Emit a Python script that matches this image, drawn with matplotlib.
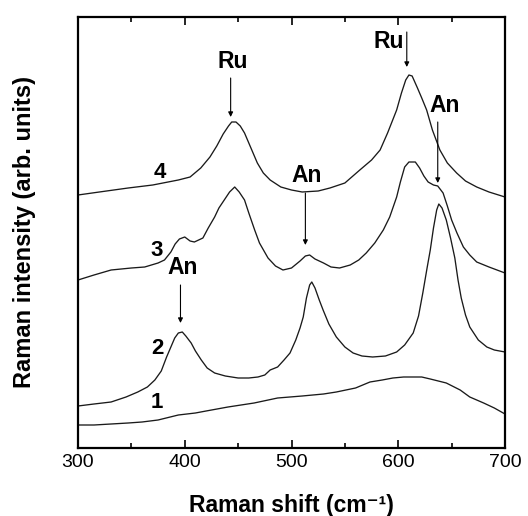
import matplotlib
matplotlib.use("Agg")
import matplotlib.pyplot as plt
from matplotlib.ticker import MultipleLocator

# Raman shift (cm^-1) and intensity (arb. units, offset curves)
x1 = [300, 315, 331, 347, 360, 375, 394, 410, 420, 440.5, 465, 487, 510, 530, 542, 560, 573.5, 585, 595, 605, 614, 622, 630, 645, 658, 667, 680, 690, 700]
y1 = [23, 23, 24, 25, 26, 28, 33, 35, 37, 41, 45, 50, 52, 54, 56, 60, 66, 68, 70, 71, 71, 71, 69, 65, 58, 51, 45, 40, 34]

x2 = [300, 315, 331, 345, 356, 365, 372, 378, 383, 387, 390.6, 394, 397.7, 401, 406, 410, 415.5, 421, 428, 438, 450, 460, 468.6, 475, 480, 487, 493, 498.6, 504, 508, 511, 514, 517, 519, 522, 526, 529.6, 535, 542, 550, 557.7, 566, 576, 588, 598.5, 606, 614, 619, 623, 627, 630, 633, 636, 638, 641, 645, 649, 653, 656, 659, 663, 667, 675, 683, 690, 700]
y2 = [42, 44, 46, 51, 56, 61, 68, 77, 91, 101, 110, 115, 116, 112, 105, 97, 88, 80, 75, 72, 70, 70, 71, 73, 78, 81, 88, 95, 108, 120, 131, 150, 163, 166, 160, 148, 138, 124, 111, 101, 95, 92, 91, 92, 96, 103, 115, 132, 155, 180, 198, 220, 238, 244, 240, 228, 210, 190, 168, 150, 133, 121, 108, 101, 98, 96]

x3 = [300, 315, 331, 350, 362.5, 375, 381, 387, 391, 395, 400, 405, 409, 413, 417, 422, 428, 432, 437, 442, 446.8, 451, 456, 460, 465.5, 470, 478, 485, 492, 500, 508, 513, 517, 522, 530, 537, 545, 555, 563, 570, 578, 586, 592, 598.5, 602, 606, 610, 616, 620, 624, 628, 633, 637, 642, 646, 650, 655, 661, 667, 673.5, 685, 700]
y3 = [168, 173, 178, 180, 181, 185, 188, 196, 204, 209, 211, 207, 206, 208, 210, 220, 231, 240, 248, 256, 261, 256, 248, 235, 218, 205, 190, 182, 178, 180, 187, 192, 193, 189, 185, 181, 180, 183, 188, 195, 205, 218, 231, 251, 266, 281, 286, 286, 280, 272, 266, 263, 262, 255, 242, 228, 215, 201, 193, 186, 181, 175]

x4 = [300, 320, 347, 370, 394, 405, 415, 423.6, 430, 436, 441, 444, 448, 452, 456, 460, 464, 468, 473.6, 480, 490, 500, 510, 525, 536, 550, 564, 575, 583, 590, 598.5, 603, 607, 610, 613, 618, 622, 626.6, 632, 639, 646, 654.7, 663, 673.5, 685, 700]
y4 = [253, 256, 260, 263, 268, 271, 280, 291, 302, 314, 322, 326, 326, 322, 315, 305, 295, 285, 275, 268, 261, 258, 256, 257, 260, 265, 278, 288, 298, 315, 338, 355, 368, 373, 372, 360, 350, 338, 318, 298, 285, 275, 267, 261, 256, 251]

curve_labels = ["1", "2", "3", "4"]
curve_label_pos = [(374, 45), (374, 100), (374, 198), (377, 275)]

# peak annotations: text, text position, arrow x, arrow start y, arrow tip y
peak_texts = ["Ru", "Ru", "An", "An", "An"]
peak_text_pos = [(445, 386), (591, 406), (643, 343), (514.5, 273), (398, 180)]
arrow_x = [443, 608, 637, 513, 396]
arrow_y_start = [370, 416, 326, 255, 163]
arrow_y_end = [331, 381, 265, 203, 125]

fig = plt.figure(figsize=(5.28, 5.16), dpi=100)
ax = fig.add_axes([78/528, 1-448/516, (505-78)/528, (448-17)/516])

for xs, ys in [(x1, y1), (x2, y2), (x3, y3), (x4, y4)]:
    ax.plot(xs, ys, color="#1a1a1a", lw=0.95)

for lab, (lx, ly) in zip(curve_labels, curve_label_pos):
    ax.text(lx, ly, lab, fontsize=16, fontweight="bold", family="Liberation Sans",
            ha="center", va="center")

for t, (tx, ty), axx, ys, ye in zip(peak_texts, peak_text_pos, arrow_x, arrow_y_start, arrow_y_end):
    ax.text(tx, ty, t, fontsize=16.5, fontweight="bold", family="Liberation Sans",
            ha="center", va="center")
    ax.annotate("", xy=(axx, ye), xytext=(axx, ys),
                arrowprops=dict(arrowstyle="-|>", lw=0.8, color="black",
                                mutation_scale=7, shrinkA=0, shrinkB=0))

ax.set_xlim(300, 700)
ax.set_ylim(0, 431)
ax.xaxis.set_major_locator(MultipleLocator(100))
ax.xaxis.set_minor_locator(MultipleLocator(50))
ax.tick_params(axis="x", which="both", direction="in", top=True, bottom=True,
               labelsize=14, width=1.2)
ax.tick_params(axis="x", which="major", length=6, pad=4)
ax.tick_params(axis="x", which="minor", length=3.5)
ax.set_yticks([])
for lbl in ax.get_xticklabels():
    lbl.set_family("Liberation Sans")
for s in ax.spines.values():
    s.set_linewidth(1.6)

ax.set_xlabel("Raman shift (cm\u207b\u00b9)", fontsize=16.5, fontweight="bold",
              family=["Liberation Sans", "DejaVu Sans"], labelpad=17)
ax.set_ylabel("Raman intensity (arb. units)", fontsize=17, fontweight="bold",
              family="Liberation Sans", labelpad=30)

fig.savefig("out.png", dpi=100)
